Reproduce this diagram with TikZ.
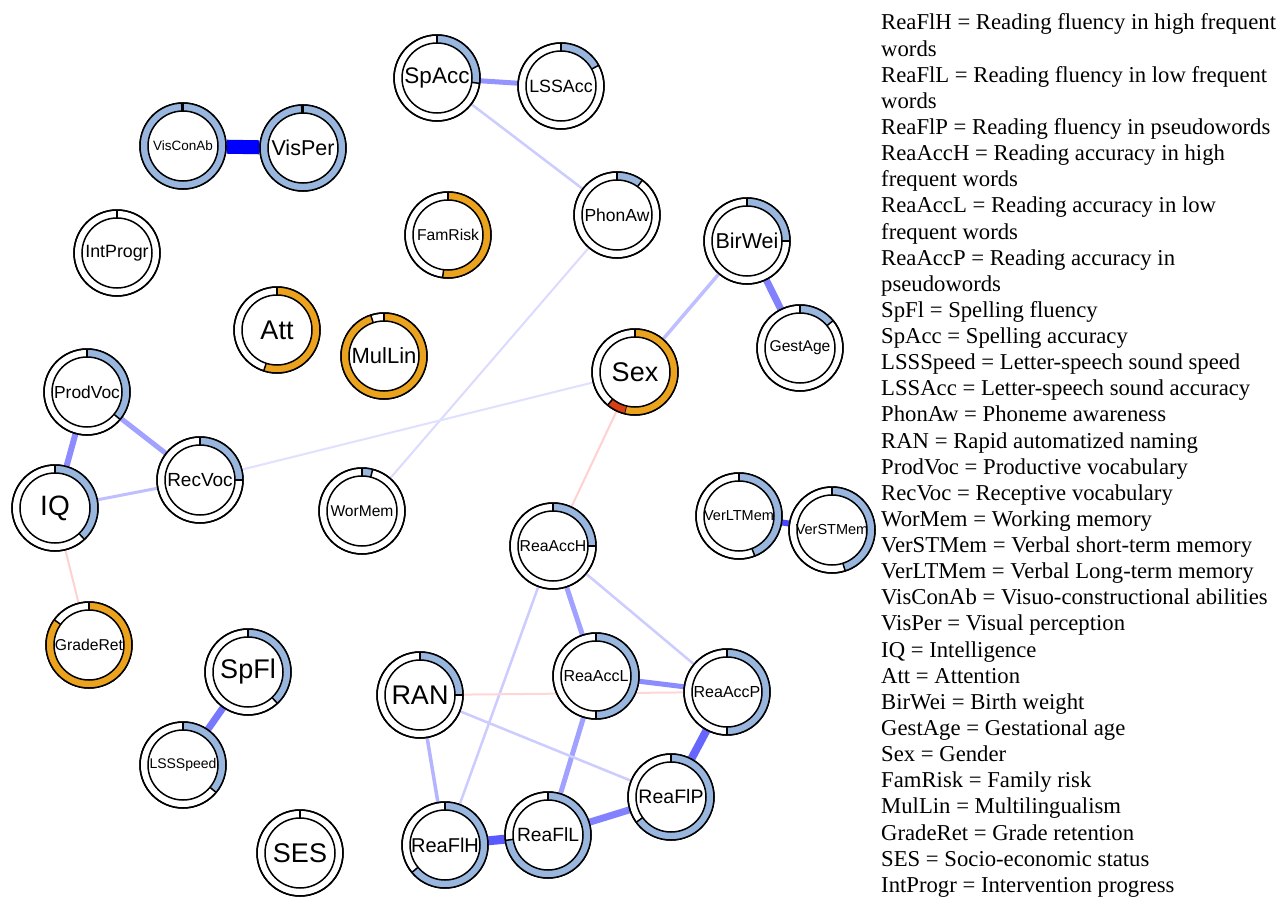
\documentclass[tikz,border=0pt]{standalone}
\usepackage{fontspec}
\setmainfont{Liberation Serif}
\setsansfont{Liberation Sans}
\usetikzlibrary{calc,backgrounds}
\definecolor{ringblue}{RGB}{152,182,222}
\definecolor{ringorange}{RGB}{235,163,30}
\definecolor{ringred}{RGB}{214,62,22}
\tikzset{
  nd/.style={circle, draw=black, line width=1.5pt, fill=white, minimum size=86pt, inner sep=0pt},
  ol/.style={black, line width=1.5pt},
  lnk/.style 2 args={line width=#1pt, draw=#2},
  legend/.style={anchor=base west, inner sep=0pt, font=\fontsize{22.7}{26}\selectfont}
}
% node: name, x, y, label, font size
\newcommand\netnode[5]{%
  \node[nd, font=\sffamily\fontsize{#5}{#5}\selectfont] (#1) at (#2,-#3) {#4};}
% ring segment: node, colour, from fraction, to fraction
\newcommand\ringseg[4]{%
  \fill[#2] ($(#1.center)+({90-360*#3}:43pt)$) arc[start angle={90-360*#3}, end angle={90-360*#4}, radius=43pt]
    -- ($(#1.center)+({90-360*#4}:35pt)$) arc[start angle={90-360*#4}, end angle={90-360*#3}, radius=35pt] -- cycle;
  \draw[ol] ($(#1.center)+({90-360*#4}:35pt)$) -- ($(#1.center)+({90-360*#4}:43pt)$);}
\newcommand\ringlines[1]{%
  \draw[ol] (#1.center) circle (43pt);
  \draw[ol] (#1.center) circle (35pt);
  \draw[ol] ($(#1.center)+(90:35pt)$) -- ($(#1.center)+(90:43pt)$);}
\begin{document}
\begin{tikzpicture}[x=1pt,y=1pt]
\useasboundingbox (0,0) rectangle (1286,-899);

% nodes
\netnode{VisConAb}{183}{146}{VisConAb}{13.5}
\netnode{VisPer}{303}{148}{VisPer}{21.5}
\netnode{SpAcc}{437}{78}{SpAcc}{22.5}
\netnode{LSSAcc}{561}{86}{LSSAcc}{17.8}
\netnode{PhonAw}{617}{215}{PhonAw}{17.5}
\netnode{IntProgr}{117}{253}{IntProgr}{17.8}
\netnode{FamRisk}{448}{235}{FamRisk}{15.7}
\netnode{BirWei}{747}{241}{BirWei}{21.5}
\netnode{Att}{277}{330}{Att}{27}
\netnode{MulLin}{384}{356}{MulLin}{22}
\netnode{GestAge}{800}{348}{GestAge}{15.6}
\netnode{Sex}{635}{372}{Sex}{27}
\netnode{ProdVoc}{87}{392}{ProdVoc}{17.4}
\netnode{RecVoc}{200}{480}{RecVoc}{19}
\netnode{IQ}{55}{508}{IQ}{28}
\netnode{WorMem}{362}{511}{WorMem}{15.6}
\netnode{ReaAccH}{553}{546}{ReaAccH}{15.8}
\netnode{VerLTMem}{739}{516}{VerLTMem}{14.5}
\netnode{VerSTMem}{832}{530}{VerSTMem}{14.5}
\netnode{GradeRet}{89}{645}{GradeRet}{15.7}
\netnode{SpFl}{248}{672}{SpFl}{27}
\netnode{ReaAccL}{596}{676}{ReaAccL}{16}
\netnode{RAN}{420}{695}{RAN}{27}
\netnode{ReaAccP}{727}{692}{ReaAccP}{16}
\netnode{LSSSpeed}{183}{765}{LSSSpeed}{14}
\netnode{ReaFlP}{671}{797}{ReaFlP}{19.5}
\netnode{ReaFlL}{548}{835}{ReaFlL}{19.2}
\netnode{ReaFlH}{445}{845}{ReaFlH}{20}
\netnode{SES}{300}{853}{SES}{27}

% ring segments
\ringseg{VisConAb}{ringblue}{0}{0.995}
\ringseg{VisPer}{ringblue}{0}{0.995}
\ringseg{SpAcc}{ringblue}{0}{0.27}
\ringseg{LSSAcc}{ringblue}{0}{0.17}
\ringseg{PhonAw}{ringblue}{0}{0.10}
\ringseg{FamRisk}{ringorange}{0}{0.52}
\ringseg{BirWei}{ringblue}{0}{0.25}
\ringseg{Att}{ringorange}{0}{0.55}
\ringseg{MulLin}{ringorange}{0}{0.95}
\ringseg{GestAge}{ringblue}{0}{0.14}
\ringseg{Sex}{ringorange}{0}{0.54}
\ringseg{Sex}{ringred}{0.54}{0.61}
\ringseg{ProdVoc}{ringblue}{0}{0.36}
\ringseg{RecVoc}{ringblue}{0}{0.25}
\ringseg{IQ}{ringblue}{0}{0.38}
\ringseg{WorMem}{ringblue}{0}{0.04}
\ringseg{ReaAccH}{ringblue}{0}{0.25}
\ringseg{VerLTMem}{ringblue}{0}{0.44}
\ringseg{VerSTMem}{ringblue}{0}{0.45}
\ringseg{GradeRet}{ringorange}{0}{0.85}
\ringseg{SpFl}{ringblue}{0}{0.38}
\ringseg{ReaAccL}{ringblue}{0}{0.5}
\ringseg{RAN}{ringblue}{0}{0.25}
\ringseg{ReaAccP}{ringblue}{0}{0.5}
\ringseg{LSSSpeed}{ringblue}{0}{0.36}
\ringseg{ReaFlP}{ringblue}{0}{0.65}
\ringseg{ReaFlL}{ringblue}{0}{0.73}
\ringseg{ReaFlH}{ringblue}{0}{0.64}

\foreach \n in {VisConAb,VisPer,SpAcc,LSSAcc,PhonAw,IntProgr,FamRisk,BirWei,Att,MulLin,GestAge,Sex,ProdVoc,RecVoc,IQ,WorMem,ReaAccH,VerLTMem,VerSTMem,GradeRet,SpFl,ReaAccL,RAN,ReaAccP,LSSSpeed,ReaFlP,ReaFlL,ReaFlH,SES}{\ringlines{\n}}

% edges
\begin{pgfonlayer}{background}
\fill[white] (0,0) rectangle (1286,-899);
\draw[lnk={14}{blue}] (VisConAb) -- (VisPer);
\draw[lnk={5}{blue!42}] (SpAcc) -- (LSSAcc);
\draw[lnk={2.5}{blue!20}] (SpAcc) -- (PhonAw);
\draw[lnk={2}{blue!14}] (PhonAw) -- (WorMem);
\draw[lnk={3.5}{blue!25}] (BirWei) -- (Sex);
\draw[lnk={7}{blue!49}] (BirWei) -- (GestAge);
\draw[lnk={2}{blue!12}] (Sex) -- (RecVoc);
\draw[lnk={2}{red!18}] (Sex) -- (ReaAccH);
\draw[lnk={6}{blue!45}] (ProdVoc) -- (IQ);
\draw[lnk={5}{blue!37}] (ProdVoc) -- (RecVoc);
\draw[lnk={3}{blue!25}] (IQ) -- (RecVoc);
\draw[lnk={2}{red!18}] (IQ) -- (GradeRet);
\draw[lnk={7}{blue!53}] (SpFl) -- (LSSSpeed);
\draw[lnk={6}{blue!72}] (VerLTMem) -- (VerSTMem);
\draw[lnk={5}{blue!37}] (ReaAccH) -- (ReaAccL);
\draw[lnk={2.5}{blue!20}] (ReaAccH) -- (ReaAccP);
\draw[lnk={2.5}{blue!20}] (ReaAccH) -- (ReaFlH);
\draw[lnk={5}{blue!45}] (ReaAccL) -- (ReaAccP);
\draw[lnk={5}{blue!37}] (ReaAccL) -- (ReaFlL);
\draw[lnk={2}{red!16}] (RAN) -- (ReaAccP);
\draw[lnk={3.5}{blue!29}] (RAN) -- (ReaFlH);
\draw[lnk={2.5}{blue!20}] (RAN) -- (ReaFlP);
\draw[lnk={9}{blue!65}] (ReaFlH) -- (ReaFlL);
\draw[lnk={7}{blue!49}] (ReaFlL) -- (ReaFlP);
\draw[lnk={8}{blue!60}] (ReaFlP) -- (ReaAccP);
\end{pgfonlayer}

% legend
\foreach \t [count=\i] in {
ReaFlH = Reading fluency in high frequent,
words,
ReaFlL = Reading fluency in low frequent,
words,
ReaFlP = Reading fluency in pseudowords,
ReaAccH = Reading accuracy in high,
frequent words,
ReaAccL = Reading accuracy in low,
frequent words,
ReaAccP = Reading accuracy in,
pseudowords,
SpFl = Spelling fluency,
SpAcc = Spelling accuracy,
LSSSpeed = Letter-speech sound speed,
LSSAcc = Letter-speech sound accuracy,
PhonAw = Phoneme awareness,
RAN = Rapid automatized naming,
ProdVoc = Productive vocabulary,
RecVoc = Receptive vocabulary,
WorMem = Working memory,
VerSTMem = Verbal short-term memory,
VerLTMem = Verbal Long-term memory,
VisConAb = Visuo-constructional abilities,
VisPer = Visual perception,
IQ = Intelligence,
Att = Attention,
BirWei = Birth weight,
GestAge = Gestational age,
Sex = Gender,
FamRisk = Family risk,
MulLin = Multilingualism,
GradeRet = Grade retention,
SES = Socio-economic status,
IntProgr = Intervention progress}
{\node[legend] (leg\i) at (881,{-30-26.13*(\i-1)}) {\t};}
\end{tikzpicture}
\end{document}
